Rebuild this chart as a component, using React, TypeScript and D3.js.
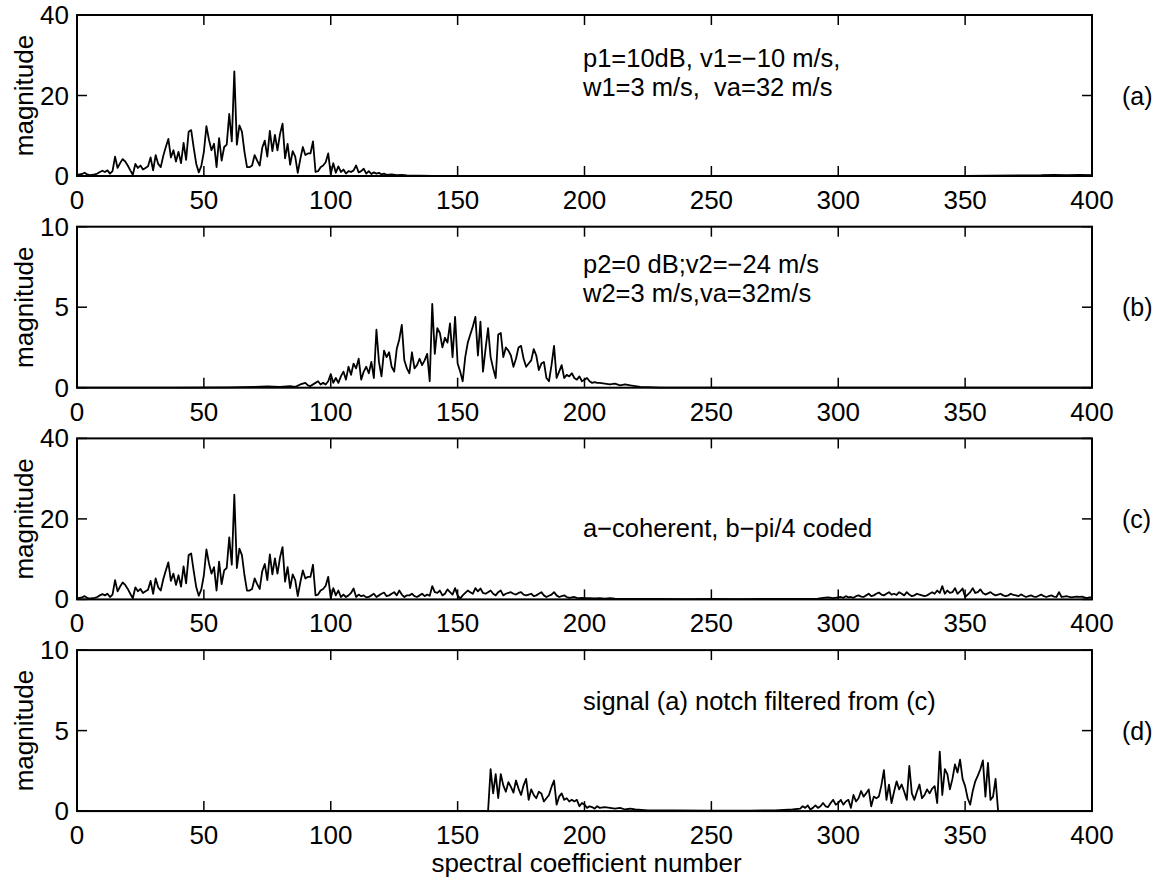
import React from "react";
import * as d3 from "d3";

type Pt = [number, number];

// ---- tick values / labels ----
const xTicks = [0, 50, 100, 150, 200, 250, 300, 350, 400];
const yTicksA = [0, 20, 40];
const yTicksB = [0, 5, 10];
const yTicksC = [0, 20, 40];
const yTicksD = [0, 5, 10];
const panelTags = ["(a)", "(b)", "(c)", "(d)"];
const panelNotes = [
  ["p1=10dB, v1=\u221210 m/s,", "w1=3 m/s,  va=32 m/s"],
  ["p2=0 dB;v2=\u221224 m/s", "w2=3 m/s,va=32m/s"],
  ["a\u2212coherent, b\u2212pi/4 coded"],
  ["signal (a) notch filtered from (c)"],
];
const yLabel = "magnitude";
const xLabel = "spectral coefficient number";

// ---- data: [spectral coefficient, magnitude] ----
const coherentLow: Pt[] = [
  [0, 0.3], [1, 0.4], [2, 0.5], [3, 0.8], [4, 0.4], [5, 0.2], [6, 0.3], [7, 0.4], [8, 0.6], [9, 1.0],
  [10, 1.3], [11, 1.0], [12, 1.4], [13, 0.6], [14, 1.2], [15, 4.8], [16, 2.0], [17, 3.2], [18, 4.2], [19, 3.6],
  [20, 2.6], [21, 1.4], [22, 0.3], [23, 3.0], [24, 2.0], [25, 2.6], [26, 1.6], [27, 2.0], [28, 2.4], [29, 4.6],
  [30, 1.4], [31, 5.2], [32, 3.0], [33, 2.2], [34, 5.0], [35, 7.2], [36, 9.2], [37, 4.6], [38, 6.4], [39, 3.6],
  [40, 6.0], [41, 3.2], [42, 8.2], [43, 4.0], [44, 11.0], [45, 11.4], [46, 7.0], [47, 3.0], [48, 0.9], [49, 2.5],
  [50, 6.0], [51, 12.4], [52, 9.0], [53, 6.4], [54, 8.0], [55, 2.2], [56, 9.4], [57, 3.8], [58, 7.2], [59, 7.8],
  [60, 15.4], [61, 8.6], [62, 26.0], [63, 7.8], [64, 12.6], [65, 11.0], [66, 6.0], [67, 2.2], [68, 2.2], [69, 2.6],
  [70, 5.2], [71, 3.8], [72, 2.6], [73, 7.0], [74, 8.8], [75, 4.8], [76, 11.2], [77, 6.2], [78, 10.2], [79, 6.4],
  [80, 10.4], [81, 13.0], [82, 4.4], [83, 8.0], [84, 2.8], [85, 6.2], [86, 4.8], [87, 0.8], [88, 4.2], [89, 7.2],
  [90, 5.2], [91, 5.6], [92, 5.6], [93, 8.6], [94, 1.0], [95, 1.2], [96, 2.2], [97, 2.6], [98, 3.4], [99, 5.6],
];

const coherentTail: Pt[] = [
  [100, 0.4], [101, 3.2], [102, 0.8], [103, 2.4], [104, 1.0], [105, 1.6], [106, 0.6], [107, 1.2], [108, 1.0], [109, 1.4],
  [110, 2.6], [111, 0.9], [112, 1.2], [113, 1.8], [114, 0.6], [115, 1.2], [116, 0.5], [117, 0.9], [118, 0.6], [119, 0.8],
  [120, 0.4], [121, 0.6], [122, 0.3], [124, 0.4], [126, 0.2], [128, 0.3], [130, 0.15], [135, 0.1], [140, 0.05], [150, 0.02],
  [200, 0.02], [250, 0.02], [300, 0.02], [350, 0.02], [380, 0.2], [385, 0.3], [390, 0.2], [395, 0.3], [400, 0.2],
];

const codedSpec: Pt[] = [
  [0, 0], [20, 0], [40, 0], [60, 0.02], [70, 0.05], [75, 0.08], [80, 0.05], [84, 0.1], [86, 0.05], [88, 0.2],
  [90, 0.3], [91, 0.15], [92, 0.1], [94, 0.3], [95, 0.4], [96, 0.2], [97, 0.3], [98, 0.2], [99, 0.4],
  [100, 0.85], [101, 0.3], [102, 0.6], [103, 0.3], [104, 0.7], [105, 1.0], [106, 0.5], [107, 1.3], [108, 0.8], [109, 1.5],
  [110, 1.2], [111, 1.8], [112, 0.5], [113, 1.0], [114, 1.3], [115, 0.9], [116, 1.6], [117, 0.6], [118, 3.6], [119, 1.6],
  [120, 0.7], [121, 2.3], [122, 1.9], [123, 2.2], [124, 1.3], [125, 1.0], [126, 2.4], [127, 3.0], [128, 3.9], [129, 1.7],
  [130, 1.2], [131, 0.9], [132, 2.2], [133, 1.2], [134, 1.4], [135, 1.8], [136, 1.4], [137, 1.7], [138, 2.1], [139, 0.4],
  [140, 5.2], [141, 2.1], [142, 3.7], [143, 3.4], [144, 2.5], [145, 3.1], [146, 2.8], [147, 4.0], [148, 1.9], [149, 4.4],
  [150, 1.5], [151, 1.0], [152, 0.4], [153, 1.9], [154, 2.8], [155, 3.3], [156, 3.8], [157, 4.4], [158, 2.0], [159, 4.1],
  [160, 1.0], [161, 2.4], [162, 3.7], [163, 1.9], [164, 1.2], [165, 0.6], [166, 3.3], [167, 3.4], [168, 1.9], [169, 2.5],
  [170, 2.3], [171, 2.0], [172, 1.3], [173, 1.8], [174, 2.5], [175, 2.6], [176, 1.8], [177, 1.3], [178, 1.5], [179, 1.7],
  [180, 2.4], [181, 2.0], [182, 1.1], [183, 1.5], [184, 1.6], [185, 0.6], [186, 0.4], [187, 1.4], [188, 2.6], [189, 0.6],
  [190, 1.0], [191, 1.4], [192, 0.6], [193, 0.8], [194, 0.7], [195, 0.9], [196, 0.6], [197, 0.5], [198, 0.7], [199, 0.4],
  [200, 0.5], [201, 0.6], [202, 0.4], [203, 0.3], [204, 0.35], [205, 0.3], [206, 0.3], [208, 0.25], [210, 0.2], [212, 0.25],
  [214, 0.15], [216, 0.2], [218, 0.15], [220, 0.1], [222, 0.05], [225, 0.03], [230, 0], [300, 0], [400, 0],
];

const mixedTail: Pt[] = [
  [100, 0.3], [101, 2.8], [102, 1.0], [103, 2.2], [104, 0.6], [105, 1.2], [106, 0.6], [107, 1.0], [108, 1.6], [109, 2.7],
  [110, 0.6], [111, 1.2], [112, 0.8], [113, 1.0], [114, 0.5], [115, 0.6], [116, 1.0], [117, 1.4], [118, 0.6], [119, 1.0],
  [120, 1.4], [121, 1.7], [122, 0.8], [123, 1.0], [124, 1.4], [125, 1.8], [126, 1.0], [127, 2.2], [128, 1.2], [129, 0.6],
  [130, 1.0], [131, 1.0], [132, 1.4], [133, 0.8], [134, 0.6], [135, 1.0], [136, 1.4], [137, 0.8], [138, 1.2], [139, 0.9],
  [140, 3.3], [141, 1.8], [142, 1.6], [143, 2.2], [144, 1.0], [145, 1.4], [146, 2.5], [147, 1.8], [148, 1.2], [149, 2.8],
  [150, 1.0], [151, 0.2], [152, 1.0], [153, 1.6], [154, 2.2], [155, 1.8], [156, 1.4], [157, 2.8], [158, 2.0], [159, 2.7],
  [160, 1.6], [161, 1.4], [162, 1.8], [163, 2.2], [164, 1.4], [165, 1.0], [166, 1.8], [167, 2.2], [168, 1.0], [169, 1.4],
  [170, 1.6], [171, 1.8], [172, 1.4], [173, 1.2], [174, 1.6], [175, 1.8], [176, 1.2], [177, 1.0], [178, 1.2], [179, 1.4],
  [180, 0.8], [181, 1.0], [182, 1.4], [183, 1.8], [184, 1.0], [185, 0.6], [186, 0.9], [187, 1.2], [188, 1.8], [189, 1.0],
  [190, 0.6], [191, 0.8], [192, 1.0], [193, 0.6], [194, 0.4], [195, 0.5], [196, 0.6], [197, 0.4], [198, 0.3], [199, 0.4],
  [200, 0.3], [202, 0.3], [204, 0.25], [206, 0.3], [208, 0.2], [210, 0.3], [212, 0.2], [215, 0.15], [220, 0.1], [230, 0.1],
  [240, 0.08], [250, 0.1], [260, 0.08], [270, 0.1], [280, 0.1], [288, 0.15], [292, 0.2], [294, 0.4], [296, 0.5], [298, 0.3],
  [300, 0.5], [301, 0.6], [302, 0.4], [303, 0.8], [304, 0.5], [305, 0.6], [306, 0.4], [307, 0.8], [308, 1.0], [309, 0.7],
  [310, 0.6], [311, 1.0], [312, 1.4], [313, 0.8], [314, 1.0], [315, 1.4], [316, 1.7], [317, 1.2], [318, 1.0], [319, 1.4],
  [320, 1.8], [321, 1.2], [322, 1.4], [323, 1.1], [324, 1.8], [325, 1.4], [326, 1.0], [327, 1.8], [328, 1.2], [329, 0.8],
  [330, 1.0], [331, 1.4], [332, 1.2], [333, 1.0], [334, 0.8], [335, 1.0], [336, 1.4], [337, 1.8], [338, 1.4], [339, 2.2],
  [340, 1.6], [341, 3.3], [342, 1.4], [343, 2.2], [344, 1.6], [345, 1.8], [346, 2.8], [347, 1.4], [348, 2.0], [349, 2.7],
  [350, 0.6], [351, 1.2], [352, 1.8], [353, 2.8], [354, 1.6], [355, 1.8], [356, 2.5], [357, 1.6], [358, 1.2], [359, 1.5],
  [360, 1.8], [361, 1.3], [362, 1.0], [363, 1.2], [364, 1.4], [365, 1.0], [366, 0.8], [367, 1.0], [368, 1.4], [369, 1.1],
  [370, 1.0], [371, 0.8], [372, 1.25], [373, 0.9], [374, 0.6], [375, 0.8], [376, 1.0], [377, 0.7], [378, 0.6], [379, 0.9],
  [380, 1.2], [381, 0.8], [382, 0.6], [383, 0.8], [384, 1.0], [385, 0.7], [386, 0.6], [387, 1.8], [388, 0.6], [389, 0.7],
  [390, 0.8], [391, 0.6], [392, 0.5], [393, 0.6], [394, 0.7], [395, 0.6], [396, 0.7], [397, 0.5], [398, 0.3], [399, 0.5],
  [400, 0.5],
];

const notchedSpec: Pt[] = [
  [0, 0], [100, 0], [162, 0], [163, 2.6], [164, 1.1], [165, 2.3], [166, 0.8], [167, 2.3], [168, 1.6], [169, 1.2],
  [170, 1.8], [171, 1.5], [172, 1.15], [173, 1.9], [174, 1.4], [175, 1.0], [176, 1.6], [177, 2.0], [178, 0.7], [179, 1.35],
  [180, 1.0], [181, 0.8], [182, 1.2], [183, 1.1], [184, 0.6], [185, 0.8], [186, 1.0], [187, 1.5], [188, 1.9], [189, 0.4],
  [190, 0.9], [191, 1.1], [192, 0.7], [193, 0.8], [194, 0.6], [195, 0.7], [196, 0.6], [197, 0.7], [198, 0.3], [199, 0.5],
  [200, 0.4], [201, 0.2], [202, 0.3], [203, 0.25], [204, 0.15], [205, 0.3], [206, 0.2], [208, 0.25], [210, 0.2], [212, 0.15],
  [214, 0.2], [216, 0.1], [218, 0.15], [220, 0.1], [225, 0.05], [235, 0.05], [250, 0.03], [265, 0.03], [275, 0.05], [282, 0.1],
  [285, 0.15], [286, 0.3], [287, 0.2], [288, 0.35], [289, 0.1], [290, 0.2], [291, 0.35], [292, 0.2], [293, 0.3], [294, 0.5],
  [295, 0.3], [296, 0.25], [297, 0.5], [298, 0.7], [299, 0.4], [300, 0.5], [301, 0.7], [302, 0.4], [303, 0.6], [304, 0.7],
  [305, 0.2], [306, 1.0], [307, 0.6], [308, 0.8], [309, 1.25], [310, 0.9], [311, 1.1], [312, 1.35], [313, 0.3], [314, 0.9],
  [315, 0.8], [316, 0.9], [317, 1.6], [318, 2.55], [319, 0.7], [320, 1.65], [321, 0.5], [322, 1.2], [323, 1.85], [324, 1.35],
  [325, 1.65], [326, 1.2], [327, 0.7], [328, 2.8], [329, 1.1], [330, 0.7], [331, 1.2], [332, 1.65], [333, 0.8], [334, 1.0],
  [335, 1.35], [336, 1.1], [337, 1.4], [338, 1.55], [339, 0.5], [340, 3.7], [341, 1.0], [342, 2.6], [343, 2.3], [344, 1.35],
  [345, 2.0], [346, 2.9], [347, 2.4], [348, 3.2], [349, 2.0], [350, 1.55], [351, 0.8], [352, 0.4], [353, 1.25], [354, 1.85],
  [355, 2.2], [356, 2.6], [357, 3.15], [358, 0.9], [359, 3.0], [360, 0.7], [361, 0.9], [362, 2.0], [363, 0], [380, 0], [400, 0],
];

const seriesA: Pt[] = [...coherentLow, ...coherentTail];
const seriesB: Pt[] = codedSpec;
const seriesC: Pt[] = [...coherentLow, ...mixedTail];
const seriesD: Pt[] = notchedSpec;

const panels = [
  { data: seriesA, ticks: yTicksA },
  { data: seriesB, ticks: yTicksB },
  { data: seriesC, ticks: yTicksC },
  { data: seriesD, ticks: yTicksD },
];

// ---- layout ----
const W = 1158;
const H = 882;
const X0 = 77;
const X1 = 1092;
const TOP0 = 15;
const STEP = 211.7;
const PH = 161;
const TICK = 10;
const FONT = "'Liberation Sans', Arial, Helvetica, sans-serif";
const FS = 26;
const NOTE_FS = 25.5;
const TAG_FS = 25;
const noteY = [
  [52, 81],
  [46, 75],
  [99],
  [60],
];
const NOTE_X = 583;

export default function App() {
  const x = d3.scaleLinear().domain([0, 400]).range([X0, X1]);
  return (
    <svg
      width={W}
      height={H}
      viewBox={`0 0 ${W} ${H}`}
      style={{ position: "absolute", left: 0, top: 0, background: "#fff" }}
      fontFamily={FONT}
    >
      <rect x={0} y={0} width={W} height={H} fill="#fff" />
      {panels.map((p, i) => {
        const top = TOP0 + i * STEP;
        const bottom = top + PH;
        const ymax = p.ticks[p.ticks.length - 1];
        const y = d3.scaleLinear().domain([0, ymax]).range([bottom, top]);
        const line = d3
          .line<Pt>()
          .x((d) => x(d[0]))
          .y((d) => y(d[1]));
        return (
          <g key={i}>
            <path d={line(p.data) ?? ""} fill="none" stroke="#000" strokeWidth={1.8} strokeLinejoin="round" />
            <rect x={X0} y={top} width={X1 - X0} height={PH} fill="none" stroke="#000" strokeWidth={2} />
            {xTicks.map((t) => (
              <g key={"x" + t}>
                <line x1={x(t)} x2={x(t)} y1={bottom} y2={bottom - TICK} stroke="#000" strokeWidth={1.5} />
                <line x1={x(t)} x2={x(t)} y1={top} y2={top + TICK} stroke="#000" strokeWidth={1.5} />
                <text x={x(t)} y={bottom + 33} textAnchor="middle" fontSize={FS}>
                  {t}
                </text>
              </g>
            ))}
            {p.ticks.map((t) => (
              <g key={"y" + t}>
                <line x1={X0} x2={X0 + TICK} y1={y(t)} y2={y(t)} stroke="#000" strokeWidth={1.5} />
                <line x1={X1} x2={X1 - TICK} y1={y(t)} y2={y(t)} stroke="#000" strokeWidth={1.5} />
                <text x={69} y={y(t) + 9} textAnchor="end" fontSize={FS}>
                  {t}
                </text>
              </g>
            ))}
            <text
              transform={`translate(33,${(top + bottom) / 2}) rotate(-90)`}
              textAnchor="middle"
              fontSize={FS}
            >
              {yLabel}
            </text>
            <text x={1122} y={(top + bottom) / 2 + 9} fontSize={TAG_FS}>
              {panelTags[i]}
            </text>
            {panelNotes[i].map((s, j) => (
              <text key={j} x={NOTE_X} y={top + noteY[i][j]} fontSize={NOTE_FS} style={{ whiteSpace: "pre" }}>
                {s}
              </text>
            ))}
          </g>
        );
      })}
      <text x={(X0 + X1) / 2 + 2} y={872} textAnchor="middle" fontSize={FS}>
        {xLabel}
      </text>
    </svg>
  );
}
